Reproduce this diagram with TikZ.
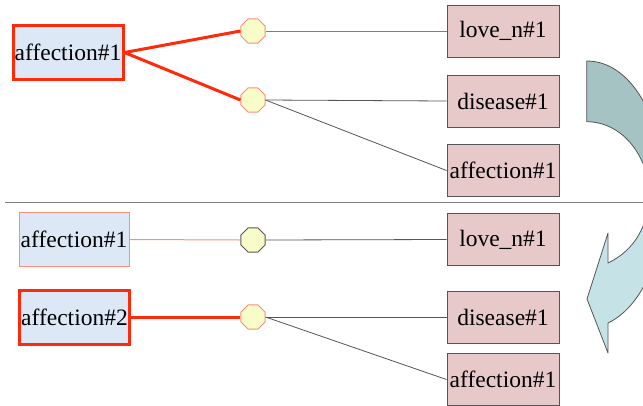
\documentclass[tikz,border=0pt]{standalone}
\usepackage{fontspec}
\setmainfont{Liberation Serif}
\usetikzlibrary{shapes.geometric}
\definecolor{redl}{HTML}{FF2A0A}
\definecolor{salmon}{HTML}{FF8C7A}
\definecolor{bluef}{HTML}{DCE8F6}
\definecolor{pinkf}{HTML}{E8C9C9}
\definecolor{octf}{HTML}{F8FCC8}
\definecolor{arrdark}{HTML}{A6C3C3}
\definecolor{arrlight}{HTML}{C5E3E7}
\definecolor{edgegray}{HTML}{555555}
\tikzset{
  lbl/.style={font=\fontsize{23.5}{25}\selectfont, inner sep=0pt, anchor=center},
  srcbox/.style={lbl, rectangle, fill=bluef, minimum width=110pt, minimum height=54pt},
  selbox/.style={srcbox, draw=redl, line width=3pt},
  unselbox/.style={srcbox, draw=salmon, line width=1pt},
  tgtbox/.style={lbl, rectangle, fill=pinkf, draw=edgegray, line width=1pt, minimum width=112pt, minimum height=52pt},
  oct/.style={regular polygon, regular polygon sides=8, minimum size=26pt, inner sep=0pt, fill=octf, line width=1pt},
  octsel/.style={oct, draw=salmon},
  octun/.style={oct, draw=edgegray},
  redlink/.style={draw=redl, line width=3pt},
  palelink/.style={draw=salmon, line width=1pt},
  graylink/.style={draw=gray, line width=1pt},
  darklink/.style={draw=edgegray, line width=0.8pt},
}
\begin{document}
\begin{tikzpicture}[x=1pt,y=-1pt]
\useasboundingbox (0,0) rectangle (643,405);
% curved arrow
\def\arrowpath{(586.7,61) .. controls (636,61) and (665,130) .. (665,190)
  .. controls (665,250) and (645,305) .. (608,323)
  -- (608,353) -- (587,299) -- (608,233) -- (608,263)
  .. controls (635,250) and (649,225) .. (649,193)
  .. controls (649,160) and (625,122) .. (586.7,121.7) -- cycle}
\begin{scope}
  \clip (0,0) rectangle (643,202);
  \path[fill=arrdark] \arrowpath;
\end{scope}
\begin{scope}
  \clip (0,202) rectangle (643,405);
  \path[fill=arrlight] \arrowpath;
\end{scope}
\begin{scope}
  \clip (0,0) rectangle (643,405);
  \draw[edgegray, line width=0.8pt, line join=round] \arrowpath;
\end{scope}
% separator
\coordinate (sepL) at (5,202);
\coordinate (sepR) at (643,202);
\draw[gray, line width=1pt] (sepL) -- (sepR);
% top half
\node[selbox] (a1) at (68,52.5) {affection\#1};
\node[octsel] (o1) at (253,31) {};
\node[octsel] (o2) at (253,100) {};
\node[tgtbox] (t1) at (503,31) {love\_n\#1};
\node[tgtbox] (t2) at (503,101) {disease\#1};
\node[tgtbox] (t3) at (503,170.5) {affection\#1};
\draw[redlink] (a1.east) -- (o1.west);
\draw[redlink] (a1.east) -- (o2.west);
\draw[graylink] (o1.east) -- (t1.west);
\draw[darklink] (o2.east) -- (t2.west);
\draw[darklink] (o2.east) -- (t3.west);
% bottom half
\node[unselbox] (b1) at (74,239.5) {affection\#1};
\node[selbox] (b2) at (74.5,317) {affection\#2};
\node[octun] (o3) at (253,240) {};
\node[octsel] (o4) at (253,317) {};
\node[tgtbox] (u1) at (503,239.5) {love\_n\#1};
\node[tgtbox] (u2) at (503,317) {disease\#1};
\node[tgtbox] (u3) at (503,379.5) {affection\#1};
\draw[palelink] (b1.east) -- (o3.west);
\draw[redlink] (b2.east) -- (o4.west);
\draw[darklink] (o3.east) -- (u1.west);
\draw[darklink] (o4.east) -- (u2.west);
\draw[darklink] (o4.east) -- (u3.west);
\end{tikzpicture}
\end{document}
